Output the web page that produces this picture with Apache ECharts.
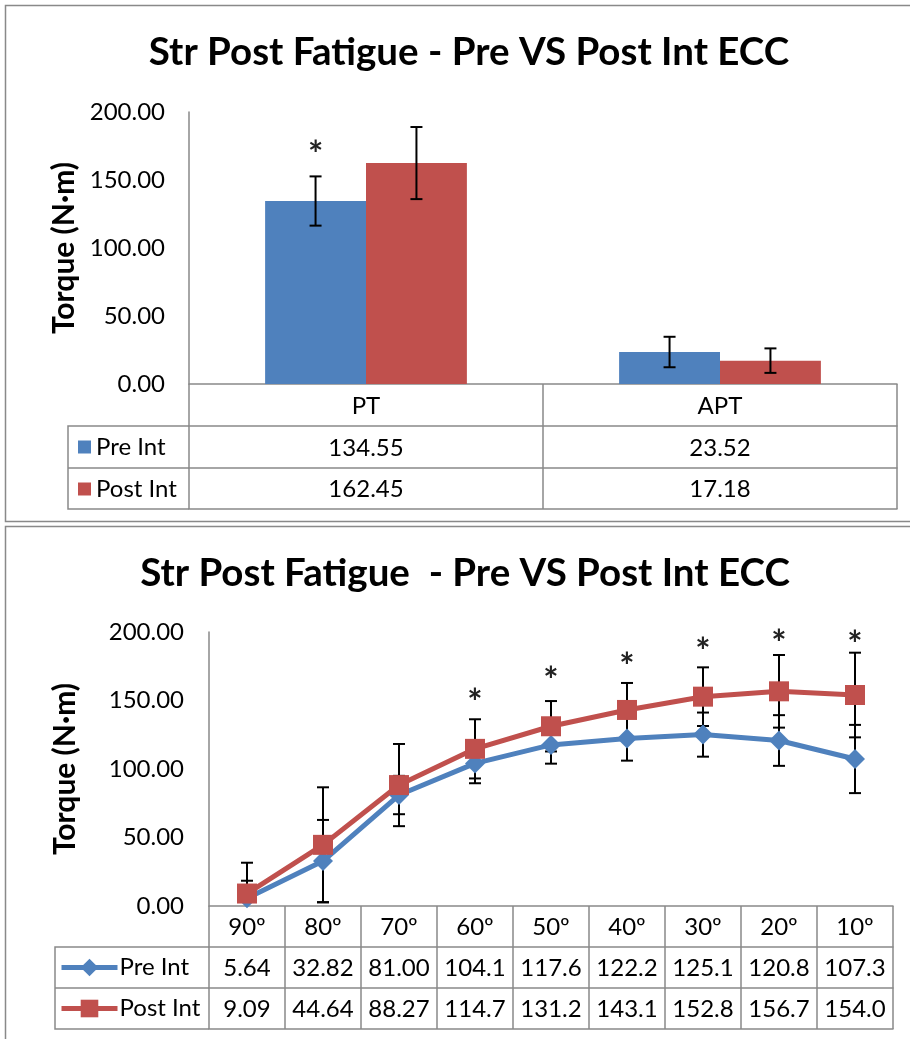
<!DOCTYPE html>
<html><head><meta charset="utf-8">
<script src="https://cdn.jsdelivr.net/npm/echarts@6/dist/echarts.min.js"></script>
<style>html,body{margin:0;padding:0;background:#fff}#c{width:910px;height:1039px}</style>
</head><body><div id="c"></div>
<script>
// ---------- data: top chart ----------
const barCategories = ['PT', 'APT'];
const barPre = [134.55, 23.52];
const barPost = [162.45, 17.18];
const barPreErr = [18.1, 11.2];
const barPostErr = [26.5, 9.0];
const barPreSig = [174, null];
// ---------- data: bottom chart ----------
const angles = ['90º', '80º', '70º', '60º', '50º', '40º', '30º', '20º', '10º'];
const linePre = [5.64, 32.82, 81.00, 104.1, 117.6, 122.2, 125.1, 120.8, 107.3];
const linePost = [9.09, 44.64, 88.27, 114.7, 131.2, 143.1, 152.8, 156.7, 154.0];
const linePreErr = [12.8, 30.0, 14.0, 14.5, 13.7, 16.1, 16.1, 18.5, 24.9];
const linePostErr = [22.5, 42.0, 30.0, 21.6, 18.4, 19.7, 21.4, 26.5, 30.9];
const lineSig = [null, null, null, 154, 170, 180, 191, 197, 196];
const yTicks = { min: 0, max: 200, interval: 50 };

const FONT = 'Lato, "Open Sans", sans-serif';
const GRAY = '#898989';
const BLUE = '#4F81BD';
const RED = '#C0504D';
const LABEL_SIZE = 24;
const fmt2 = v => v.toFixed(2);
const fmtL = v => (v >= 100 ? v.toFixed(1) : v.toFixed(2));

const chart = echarts.init(document.getElementById('c'));

function tableAxis(gridIndex, data, offset, tickLen, showLabel, rowH) {
  return {
    gridIndex, type: 'category', data, position: 'bottom', offset,
    axisLine: { show: true, onZero: false, lineStyle: { color: GRAY, width: 1.5 } },
    axisTick: { show: tickLen > 0, length: tickLen, interval: 0, lineStyle: { color: GRAY, width: 1.5 } },
    axisLabel: { show: showLabel, interval: 0, fontSize: LABEL_SIZE, color: '#000', fontFamily: FONT,
      verticalAlign: 'middle', margin: (rowH || tickLen) / 2 + 1 },
    splitLine: { show: false }
  };
}
function valueAxis(gridIndex, nameGap, margin) {
  return {
    gridIndex, type: 'value', min: yTicks.min, max: yTicks.max, interval: yTicks.interval,
    axisLine: { show: true, lineStyle: { color: GRAY, width: 1.5 } },
    axisTick: { show: false }, splitLine: { show: false },
    axisLabel: { formatter: v => v.toFixed(2), fontSize: LABEL_SIZE, color: '#000', fontFamily: FONT, margin },
    name: 'Torque (N·m)', nameLocation: 'middle', nameRotate: 90, nameGap,
    nameTextStyle: { fontSize: 30, fontWeight: 'bold', color: '#000', fontFamily: FONT }
  };
}
function errSeries(xi, yi, vals, errs, offsetFrac) {
  return {
    type: 'custom', xAxisIndex: xi, yAxisIndex: yi, z: 4, silent: true,
    data: vals.map((v, i) => [i, v, errs[i]]),
    renderItem: (params, api) => {
      const i = api.value(0), v = api.value(1), e = api.value(2);
      const band = api.size([1, 0])[0];
      const x = api.coord([i, 0])[0] + offsetFrac * band;
      const hi = Math.min(v + e, yTicks.max), lo = Math.max(v - e, yTicks.min);
      const yH = api.coord([i, hi])[1], yL = api.coord([i, lo])[1];
      const st = { stroke: '#000', lineWidth: 2 };
      const ch = [{ type: 'line', shape: { x1: x, y1: yH, x2: x, y2: yL }, style: st }];
      if (v + e <= yTicks.max) ch.push({ type: 'line', shape: { x1: x - 6, y1: yH, x2: x + 6, y2: yH }, style: st });
      if (v - e >= yTicks.min) ch.push({ type: 'line', shape: { x1: x - 6, y1: yL, x2: x + 6, y2: yL }, style: st });
      return { type: 'group', children: ch };
    }
  };
}
function sigSeries(xi, yi, sig, offsetFrac) {
  const fs = 36;
  return {
    type: 'custom', xAxisIndex: xi, yAxisIndex: yi, z: 5, silent: true,
    data: sig.map((s, i) => [i, s]).filter(d => d[1] != null),
    renderItem: (params, api) => {
      const band = api.size([1, 0])[0];
      const p = api.coord([api.value(0), api.value(1)]);
      return { type: 'text', style: { x: p[0] + offsetFrac * band, y: p[1] + fs * 0.22, text: '*',
        font: 'bold ' + fs + 'px ' + FONT, fill: '#222', align: 'center', verticalAlign: 'middle' } };
    }
  };
}

const option = {
  animation: false,
  backgroundColor: '#fff',
  title: [
    { text: 'Str Post Fatigue - Pre VS Post Int ECC', left: 464, top: 28, textAlign: 'center',
      textStyle: { fontSize: 38.5, fontWeight: 'bold', color: '#000', fontFamily: FONT } },
    { text: 'Str Post Fatigue  - Pre VS Post Int ECC', left: 460, top: 549, textAlign: 'center',
      textStyle: { fontSize: 38.5, fontWeight: 'bold', color: '#000', fontFamily: FONT } }
  ],
  grid: [
    { left: 189, top: 112, width: 708, height: 272 },
    { left: 209, top: 632, width: 684, height: 274 }
  ],
  legend: [
    { orient: 'vertical', left: 78, top: 435, padding: 0, itemWidth: 13, itemHeight: 13, itemGap: 18,
      selectedMode: false,
      textStyle: { fontSize: LABEL_SIZE, color: '#000', fontFamily: FONT, lineHeight: 24 },
      data: [{ name: 'Pre Int', icon: 'rect' }, { name: 'Post Int', icon: 'rect' }] },
    { orient: 'vertical', left: 59, top: 955.5, padding: 0, itemWidth: 56, itemHeight: 22, itemGap: 17,
      selectedMode: false, formatter: n => n.split(' |')[0],
      lineStyle: { width: 5 },
      textStyle: { fontSize: LABEL_SIZE, color: '#000', fontFamily: FONT, lineHeight: 24, padding: [0, 0, 0, -3] },
      data: ['Pre Int |angle', 'Post Int |angle'] }
  ],
  xAxis: [
    tableAxis(0, barCategories, 0, 42, true),
    tableAxis(0, barPre.map(fmt2), 42, 42, true),
    tableAxis(0, barPost.map(fmt2), 84, 41, true),
    tableAxis(0, barCategories.map(() => ''), 125, 0, false),
    tableAxis(1, angles, 0, 41, true),
    tableAxis(1, linePre.map(fmtL), 41, 41, true),
    tableAxis(1, linePost.map(fmtL), 82, 41, true),
    tableAxis(1, angles.map(() => ''), 123, 0, false)
  ],
  yAxis: [valueAxis(0, 109, 24), valueAxis(1, 129, 25)],
  series: [
    { name: 'Pre Int', type: 'bar', xAxisIndex: 0, yAxisIndex: 0, data: barPre,
      itemStyle: { color: BLUE }, barGap: '0%', barCategoryGap: '43%' },
    { name: 'Post Int', type: 'bar', xAxisIndex: 0, yAxisIndex: 0, data: barPost,
      itemStyle: { color: RED }, barGap: '0%', barCategoryGap: '43%' },
    errSeries(0, 0, barPre, barPreErr, -0.1425),
    errSeries(0, 0, barPost, barPostErr, 0.1425),
    sigSeries(0, 0, barPreSig, -0.1425),
    errSeries(4, 1, linePre, linePreErr, 0),
    errSeries(4, 1, linePost, linePostErr, 0),
    { name: 'Pre Int |angle', type: 'line', xAxisIndex: 4, yAxisIndex: 1, data: linePre, z: 6,
      symbol: 'diamond', symbolSize: 20, itemStyle: { color: BLUE },
      lineStyle: { color: BLUE, width: 5 } },
    { name: 'Post Int |angle', type: 'line', xAxisIndex: 4, yAxisIndex: 1, data: linePost, z: 6,
      symbol: 'rect', symbolSize: 20, itemStyle: { color: RED },
      lineStyle: { color: RED, width: 5 } },
    sigSeries(4, 1, lineSig, 0)
  ],
  graphic: [
    { type: 'rect', shape: { x: 5.5, y: 5.5, width: 910, height: 516 }, style: { fill: null, stroke: GRAY, lineWidth: 1.5 }, z: -1 },
    { type: 'rect', shape: { x: 5.5, y: 526.5, width: 910, height: 520 }, style: { fill: null, stroke: GRAY, lineWidth: 1.5 }, z: -1 },
    // left legend column of top table
    { type: 'polyline', shape: { points: [[189, 426], [68, 426], [68, 509], [189, 509]] }, style: { fill: null, stroke: GRAY, lineWidth: 1.5 } },
    { type: 'line', shape: { x1: 68, y1: 468, x2: 189, y2: 468 }, style: { stroke: GRAY, lineWidth: 1.5 } },
    // left legend column of bottom table
    { type: 'polyline', shape: { points: [[209, 947], [55, 947], [55, 1029], [209, 1029]] }, style: { fill: null, stroke: GRAY, lineWidth: 1.5 } },
    { type: 'line', shape: { x1: 55, y1: 988, x2: 209, y2: 988 }, style: { stroke: GRAY, lineWidth: 1.5 } }
  ]
};
chart.setOption(option);
</script>
</body></html>
